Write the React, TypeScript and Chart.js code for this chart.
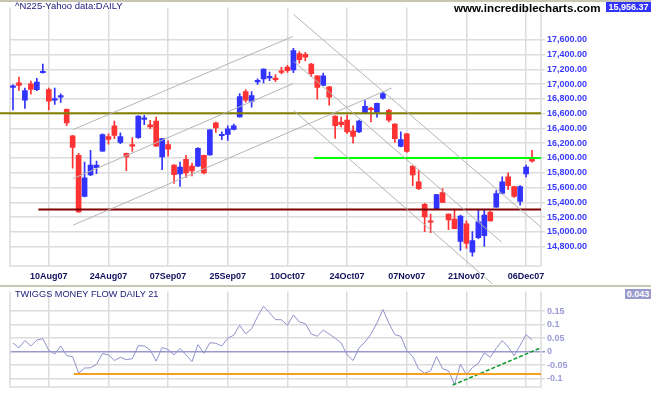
import { useEffect, useRef } from "react";
import { Chart, registerables } from "chart.js";

Chart.register(...registerables);
Chart.defaults.font.family = '"Liberation Sans", Arial, sans-serif';

const dates = [
  "02Aug07","03Aug07","06Aug07","07Aug07","08Aug07","09Aug07","10Aug07",
  "13Aug07","14Aug07","15Aug07","16Aug07","17Aug07",
  "20Aug07","21Aug07","22Aug07","23Aug07","24Aug07",
  "27Aug07","28Aug07","29Aug07","30Aug07","31Aug07",
  "03Sep07","04Sep07","05Sep07","06Sep07","07Sep07",
  "10Sep07","11Sep07","12Sep07","13Sep07","14Sep07",
  "18Sep07","19Sep07","20Sep07","21Sep07",
  "25Sep07","26Sep07","27Sep07","28Sep07",
  "01Oct07","02Oct07","03Oct07","04Oct07","05Oct07",
  "09Oct07","10Oct07","11Oct07","12Oct07",
  "15Oct07","16Oct07","17Oct07","18Oct07","19Oct07",
  "22Oct07","23Oct07","24Oct07","25Oct07","26Oct07",
  "29Oct07","30Oct07","31Oct07","01Nov07","02Nov07",
  "05Nov07","06Nov07","07Nov07","08Nov07","09Nov07",
  "12Nov07","13Nov07","14Nov07","15Nov07","16Nov07",
  "19Nov07","20Nov07","21Nov07","22Nov07",
  "26Nov07","27Nov07","28Nov07","29Nov07","30Nov07",
  "03Dec07","04Dec07","05Dec07","06Dec07","07Dec07",
];

const labeledIdx = [6, 16, 26, 36, 46, 56, 66, 76, 86];

const opens = [
  16955,17017,16782,17004,16924,17153,16924,16782,16822,16659,
  16301,16036,15480,15771,15868,16093,16288,16434,16209,16063,
  16173,16275,16523,16447,16500,16014,16182,15904,15785,15983,
  15891,15891,16036,16040,16474,16301,16319,16385,16557,16898,
  16765,17030,17070,17083,17070,17167,17229,17193,17414,17401,
  17269,17110,16981,16964,16566,16487,16513,16368,16354,16606,
  16663,16619,16809,16646,16460,16156,16328,15891,15679,15374,
  15140,15308,15533,15241,15175,14870,15109,14725,14923,14950,
  15268,15334,15520,15745,15612,15414,15785,15997,
];
const highs = [
  16990,17096,16947,17040,17079,17269,16947,16947,16867,16665,
  16305,16063,15944,16103,15957,16328,16328,16500,16341,16068,
  16275,16570,16576,16509,16553,16265,16231,15910,15944,16036,
  15930,16142,16040,16385,16487,16354,16434,16460,16871,16924,
  16898,17070,17205,17163,17127,17225,17255,17485,17441,17428,
  17282,17115,17150,16968,16570,16553,16580,16434,16513,16778,
  16686,16742,16888,16659,16465,16354,16332,15895,15838,15387,
  15241,15510,15586,15245,15308,15228,15149,15003,15294,15294,
  15281,15560,15745,15798,15615,15626,15904,16103,
];
const lows = [
  16650,16915,16672,16862,16911,17148,16650,16725,16752,16438,
  15864,15265,15475,15762,15789,16090,16186,16262,16195,15828,
  16089,16265,16451,16398,16155,15842,16023,15656,15616,15736,
  15758,15882,15785,16036,16345,16248,16239,16380,16552,16756,
  16686,16994,17017,17047,17034,17136,17159,17153,17282,17312,
  17100,16796,16978,16716,16265,16421,16332,16199,16341,16600,
  16487,16553,16796,16487,16209,16150,16076,15626,15573,15003,
  14990,15305,15397,15029,15040,14751,14778,14672,14910,14804,
  15145,15330,15515,15573,15467,15361,15745,15944,
];
const closes = [
  16977,16981,16911,16928,17026,17160,16769,16796,16845,16474,
  16142,15272,15732,15904,15904,16315,16252,16305,16288,16014,
  16160,16566,16527,16421,16160,16262,16120,15775,15877,15798,
  15824,16129,15798,16381,16407,16315,16394,16434,16831,16782,
  16845,17034,17202,17088,17061,17159,17180,17454,17331,17365,
  17140,16955,17110,16822,16438,16451,16354,16292,16500,16699,
  16655,16739,16871,16513,16262,16248,16089,15771,15586,15202,
  15131,15506,15400,15162,15043,15215,14844,14884,15135,15228,
  15149,15520,15679,15626,15480,15612,15877,15956.37,
];

const tmf = [
  0.032,0.014,0.041,0.021,0.043,0.048,0.005,-0.009,0.021,-0.015,
  -0.019,-0.080,-0.061,-0.060,-0.047,-0.007,-0.012,-0.033,-0.021,-0.030,
  -0.026,0.022,0.021,0.006,-0.035,0.015,0.008,-0.012,0.012,-0.012,
  -0.037,0.026,-0.006,0.033,0.031,0.021,0.050,0.061,0.098,0.066,
  0.085,0.130,0.169,0.144,0.119,0.118,0.098,0.136,0.110,0.104,
  0.065,0.057,0.080,0.065,0.050,0.032,-0.012,-0.033,0.014,0.035,
  0.065,0.106,0.156,0.106,0.063,0.057,0.004,-0.018,-0.065,-0.080,
  -0.071,-0.018,-0.063,-0.071,-0.122,-0.047,-0.085,-0.059,-0.044,-0.004,
  -0.021,0.012,0.041,0.018,-0.015,0.024,0.063,0.043,
];

const priceTicks = [14800,15000,15200,15400,15600,15800,16000,16200,16400,16600,16800,17000,17200,17400,17600];
const tmfTicks = [0.15, 0.1, 0.05, 0, -0.05, -0.1];

// trend lines: [index, value] pairs
const upUpper = [[10.1, 16385], [46.9, 17644]];
const upMiddle = [[10.1, 15722], [46.9, 17004]];
const upLower = [[10.1, 15092], [63.5, 16947]];
const downUpper = [[47.05, 17940], [88.5, 15063]];
const downMiddle = [[47.05, 17308], [81.9, 14861]];
const downLower = [[47.05, 16642], [80.5, 14287]];
const resistOlive = [[-2.2, 16605], [88.5, 16605]];
const supportRed = [[4.25, 15304], [88.5, 15304]];
const levelGreen = [[50.45, 16000], [88.5, 16000]];
const tmfSupport = [[10.2, -0.0826], [88.5, -0.0826]];
const tmfTrend = [[73.7, -0.124], [88.2, 0.0117]];

const GRID = "#dcdcdc";

const pts = (a: number[][]) => a.map(([x, y]) => ({ x, y }));

const lineDs = (a: number[][], color: string, width = 1, dash: number[] = []) => ({
  type: "line" as const,
  data: pts(a),
  borderColor: color,
  borderWidth: width,
  borderDash: dash,
  pointRadius: 0,
  fill: false,
  clip: false as any,
  order: 0,
});

const framePlugin = {
  id: "frame",
  beforeDatasetsDraw(chart: any) {
    const { ctx, chartArea: a } = chart;
    ctx.save();
    ctx.strokeStyle = GRID;
    ctx.lineWidth = 1.5;
    ctx.beginPath();
    ctx.moveTo(a.left, a.top);
    ctx.lineTo(a.left, a.bottom);
    ctx.lineTo(a.right, a.bottom);
    ctx.lineTo(a.right, a.top);
    ctx.stroke();
    ctx.restore();
  },
};

const fmtPrice = (v: number) => {
  const s = Math.round(v).toString();
  return s.slice(0, s.length - 3) + "," + s.slice(-3) + ".00";
};

const tickFont = { size: 9, weight: "bold" as const };

function mainConfig(): any {
  const colors = opens.map((o, i) => (closes[i] >= o ? "#3333ff" : "#ff3333"));
  const bodies = opens.map((o, i) => ({ x: i, y: [o, closes[i]] }));
  const wicks = lows.map((l, i) => ({ x: i, y: [l, highs[i]] }));
  return {
    type: "bar",
    data: {
      datasets: [
        lineDs(upUpper, "#b4b4b4"),
        lineDs(upMiddle, "#b4b4b4"),
        lineDs(upLower, "#b4b4b4"),
        lineDs(downUpper, "#b4b4b4"),
        lineDs(downMiddle, "#b4b4b4"),
        lineDs(downLower, "#b4b4b4"),
        lineDs(resistOlive, "#808000", 2),
        lineDs(supportRed, "#800000", 2),
        lineDs(levelGreen, "#00ff00", 2),
        {
          type: "bar",
          data: bodies,
          backgroundColor: colors,
          barThickness: 5,
          minBarLength: 1.5,
          grouped: false,
          borderWidth: 0,
          order: 1,
        },
        {
          type: "bar",
          data: wicks,
          backgroundColor: colors,
          barThickness: 1,
          grouped: false,
          borderWidth: 0,
          order: 2,
        },
      ],
    },
    options: {
      animation: false,
      responsive: false,
      events: [],
      layout: { padding: { left: 10, top: 2, right: 0, bottom: 0 } },
      plugins: { legend: { display: false }, tooltip: { enabled: false } },
      scales: {
        x: {
          type: "linear",
          min: -0.5,
          max: 88.5,
          bounds: "data",
          offset: false,
          afterBuildTicks: (s: any) => {
            s.ticks = labeledIdx.map((v) => ({ value: v }));
          },
          afterFit: (s: any) => {
            s.height = 18;
          },
          grid: { color: GRID, lineWidth: 1.5, drawTicks: false, offset: false },
          border: { display: false },
          ticks: {
            autoSkip: false,
            maxRotation: 0,
            padding: 5,
            color: "#10105e",
            font: tickFont,
            callback: (v: number) => dates[v] ?? "",
          },
        },
        y: {
          type: "linear",
          position: "right",
          min: 14539,
          max: 18037,
          bounds: "data",
          afterBuildTicks: (s: any) => {
            s.ticks = priceTicks.map((v) => ({ value: v }));
          },
          afterFit: (s: any) => {
            s.width = 110;
          },
          grid: { color: GRID, lineWidth: 1.5, drawTicks: true, tickLength: 4 },
          border: { display: false },
          ticks: {
            padding: 2,
            color: "#3a3aff",
            font: tickFont,
            callback: (v: number) => fmtPrice(v),
          },
        },
      },
    },
    plugins: [framePlugin],
  };
}

function lowConfig(): any {
  return {
    type: "line",
    data: {
      datasets: [
        lineDs(tmfSupport, "#f5a020", 2),
        lineDs(tmfTrend, "#109a30", 1.5, [4, 2]),
        {
          type: "line",
          data: tmf.map((v, i) => ({ x: i, y: v })),
          borderColor: "#9090cc",
          borderWidth: 1,
          pointRadius: 0,
          fill: false,
          order: 1,
        },
      ],
    },
    options: {
      animation: false,
      responsive: false,
      events: [],
      layout: { padding: { left: 10, top: 3, right: 0, bottom: 0 } },
      plugins: { legend: { display: false }, tooltip: { enabled: false } },
      scales: {
        x: {
          type: "linear",
          min: -0.5,
          max: 88.5,
          bounds: "data",
          afterBuildTicks: (s: any) => {
            s.ticks = labeledIdx.map((v) => ({ value: v }));
          },
          afterFit: (s: any) => {
            s.height = 8;
          },
          grid: { color: GRID, lineWidth: 1.5, drawTicks: false },
          border: { display: false },
          ticks: { display: false },
        },
        y: {
          type: "linear",
          position: "right",
          min: -0.1312,
          max: 0.2234,
          bounds: "data",
          afterBuildTicks: (s: any) => {
            s.ticks = tmfTicks.map((v) => ({ value: v }));
          },
          afterFit: (s: any) => {
            s.width = 110;
          },
          grid: {
            color: (c: any) => (c.tick && c.tick.value === 0 ? "#9999cc" : GRID),
            lineWidth: (c: any) => (c.tick && c.tick.value === 0 ? 1.5 : 1.5),
            drawTicks: true,
            tickLength: 4,
          },
          border: { display: false },
          ticks: {
            padding: 2,
            color: "#9a9ad8",
            font: tickFont,
            callback: (v: number) => String(Number(v.toFixed(2))),
          },
        },
      },
    },
    plugins: [framePlugin],
  };
}

export default function App() {
  const mainRef = useRef<HTMLCanvasElement>(null);
  const lowRef = useRef<HTMLCanvasElement>(null);

  useEffect(() => {
    const c1 = new Chart(mainRef.current as HTMLCanvasElement, mainConfig());
    const c2 = new Chart(lowRef.current as HTMLCanvasElement, lowConfig());
    return () => {
      c1.destroy();
      c2.destroy();
    };
  }, []);

  const font = '"Liberation Sans", Arial, sans-serif';

  return (
    <div
      style={{
        position: "fixed",
        left: 0,
        top: 0,
        width: 651,
        height: 395,
        background: "#ffffff",
        overflow: "hidden",
        fontFamily: font,
      }}
    >
      <canvas ref={mainRef} width={651} height={284} style={{ position: "absolute", left: 0, top: 0 }} />
      <canvas ref={lowRef} width={651} height={111} style={{ position: "absolute", left: 0, top: 284 }} />
      <div style={{ position: "absolute", left: 0, top: 0, width: 651, height: 2, background: "#c9c5b3" }} />
      <div style={{ position: "absolute", left: 0, top: 285, width: 651, height: 2, background: "#c9c5b3" }} />
      <div
        style={{
          position: "absolute",
          left: 15,
          top: 1,
          fontSize: "9.5px",
          lineHeight: "10px",
          color: "#202080",
          whiteSpace: "nowrap",
        }}
      >
        ^N225-Yahoo data:DAILY
      </div>
      <div
        style={{
          position: "absolute",
          left: 454,
          top: 2,
          fontSize: "11.6px",
          lineHeight: "12px",
          fontWeight: "bold",
          color: "#000000",
          whiteSpace: "nowrap",
        }}
      >
        www.incrediblecharts.com
      </div>
      <div
        style={{
          position: "absolute",
          left: 606,
          top: 2,
          width: 45,
          height: 10,
          background: "#3333ff",
          color: "#ffffff",
          fontSize: "9px",
          lineHeight: "10px",
          fontWeight: "bold",
          textAlign: "center",
          whiteSpace: "nowrap",
        }}
      >
        15,956.37
      </div>
      <div
        style={{
          position: "absolute",
          left: 15,
          top: 288.5,
          fontSize: "9.2px",
          lineHeight: "10px",
          color: "#202080",
          whiteSpace: "nowrap",
        }}
      >
        TWIGGS MONEY FLOW DAILY 21
      </div>
      <div
        style={{
          position: "absolute",
          left: 625,
          top: 289,
          width: 26,
          height: 10,
          background: "#9999cc",
          color: "#ffffff",
          fontSize: "9px",
          lineHeight: "10px",
          fontWeight: "bold",
          textAlign: "center",
          whiteSpace: "nowrap",
        }}
      >
        0.043
      </div>
    </div>
  );
}
